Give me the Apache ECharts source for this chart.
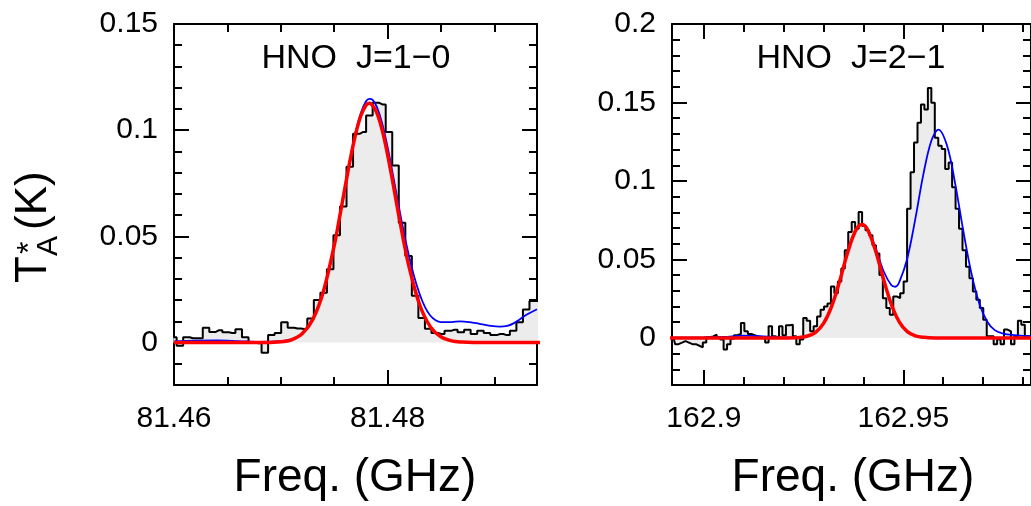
<!DOCTYPE html>
<html>
<head>
<meta charset="utf-8">
<script src="https://cdn.jsdelivr.net/npm/echarts@6/dist/echarts.min.js"></script>
<style>
html, body { margin: 0; background: #fff; }
#chart { width: 1031px; height: 506px; }
</style>
</head>
<body>
<div id="chart"></div>
<script>
// HNO J=1-0 spectrum: regular channel grid, antenna temperature per channel (K)
var leftF0 = 81.45994, leftDF = 0.000612;
var leftT = [0.0025, -0.0015, 0.0025, 0.0020, 0.0020, 0.0070, 0.0050, 0.0058, 0.0048, 0.0045,
  0.0062, 0.0025, 0.0000, -0.0003, -0.0048, 0.0035, 0.0045, 0.0095, 0.0070, 0.0066,
  0.0064, 0.0113, 0.0200, 0.0235, 0.0345, 0.0505, 0.0640, 0.0828, 0.0983, 0.0991,
  0.1069, 0.1129, 0.1121, 0.0991, 0.0834, 0.0564, 0.0408, 0.0220, 0.0115, 0.0065,
  0.0045, 0.0040, 0.0055, 0.0060, 0.0048, 0.0060, 0.0040, 0.0055, 0.0045, 0.0035,
  0.0040, 0.0035, 0.0055, 0.0095, 0.0155, 0.0195, 0.0195];

// fitted curves
var leftRedF = [81.460, 81.466, 81.468, 81.470, 81.471, 81.472, 81.473, 81.474, 81.475, 81.4755,
  81.476, 81.4765, 81.477, 81.4775, 81.478, 81.4783, 81.4785, 81.479, 81.4795, 81.480,
  81.4805, 81.481, 81.4815, 81.482, 81.483, 81.484, 81.485, 81.486, 81.487, 81.488, 81.495];
var leftRed = [0, 0, 0, 0.0004, 0.0013, 0.0041, 0.0109, 0.0242, 0.0455, 0.0587,
  0.0725, 0.0860, 0.0979, 0.1068, 0.1119, 0.1127, 0.1123, 0.1082, 0.1000, 0.0886,
  0.0753, 0.0614, 0.0480, 0.0360, 0.0179, 0.0075, 0.0027, 0.0008, 0.0002, 0, 0];
var leftBlueF = [81.460, 81.462, 81.464, 81.466, 81.468, 81.470, 81.471, 81.472, 81.473, 81.474,
  81.475, 81.4755, 81.476, 81.4765, 81.477, 81.4775, 81.478, 81.4783, 81.4786, 81.479,
  81.4795, 81.480, 81.4805, 81.481, 81.4815, 81.482, 81.4825, 81.483, 81.4835, 81.484,
  81.4845, 81.485, 81.486, 81.4868, 81.4877, 81.4886, 81.4895, 81.4905, 81.4912, 81.4918,
  81.4924, 81.4931, 81.4940];
var leftBlue = [0.0005, 0.0009, 0.0010, 0.0007, 0.0003, 0.0006, 0.0015, 0.0043, 0.0110, 0.0243,
  0.0458, 0.0591, 0.0730, 0.0867, 0.0988, 0.1081, 0.1137, 0.1147, 0.1143, 0.1110,
  0.1032, 0.0922, 0.0792, 0.0656, 0.0525, 0.0410, 0.0310, 0.0230, 0.0168, 0.0127,
  0.0105, 0.0096, 0.0096, 0.0100, 0.0096, 0.0088, 0.0080, 0.0075, 0.0078, 0.0090,
  0.0110, 0.0133, 0.0157];

// HNO J=2-1 spectrum
var rightF0 = 162.89235, rightDF = 0.000868;
var rightT = [0.0004, -0.004, -0.003, -0.002, -0.003, -0.004, -0.004, -0.005, -0.006, -0.003,
  0.0004, 0.001, 0.002, 0.0004, -0.001, -0.0074, -0.004, -0.0005, 0.0017, 0.0025,
  0.0095, 0.0042, 0.0025, 0.0017, 0.001, 0.0004, -0.0004, -0.003, 0.0074, 0.001,
  0.0004, 0.0074, 0.0017, 0.008, 0.0084, 0.001, -0.004, -0.001, 0.0127, 0.011,
  0.0042, 0.0074, 0.0137, 0.018, 0.020, 0.022, 0.0327, 0.0285, 0.0359, 0.0443,
  0.0559, 0.0675, 0.0738, 0.0696, 0.0802, 0.0713, 0.0686, 0.0654, 0.0591, 0.0538,
  0.0401, 0.0253, 0.019, 0.0148, 0.0264, 0.0253, 0.0285, 0.0359, 0.0823, 0.1055,
  0.1245, 0.1371, 0.1487, 0.1456, 0.1593, 0.1498, 0.1276, 0.1224, 0.1203, 0.1076,
  0.1118, 0.096, 0.0823, 0.0696, 0.0559, 0.0454, 0.038, 0.0295, 0.0243, 0.019,
  0.0116, 0.001, 0.001, -0.004, -0.001, -0.004, 0.0053, 0.0042, -0.004, 0.001,
  0.011, 0.0084, 0.001, 0.001];

var rightRedF = [162.890, 162.920, 162.924, 162.926, 162.928, 162.930, 162.932, 162.934, 162.936, 162.938,
  162.9396, 162.941, 162.943, 162.945, 162.947, 162.949, 162.951, 162.953, 162.955, 162.958, 162.985];
var rightRed = [0, 0, 0.0003, 0.0012, 0.0036, 0.0093, 0.0200, 0.0359, 0.0541, 0.0682,
  0.0722, 0.0691, 0.0558, 0.0377, 0.0213, 0.0101, 0.0040, 0.0013, 0.0004, 0, 0];
var rightBlueF = [162.890, 162.900, 162.905, 162.910, 162.914, 162.918, 162.922, 162.924, 162.926, 162.928,
  162.930, 162.932, 162.934, 162.936, 162.938, 162.9396, 162.941, 162.943, 162.945, 162.947,
  162.948, 162.949, 162.951, 162.953, 162.955, 162.957, 162.9588, 162.961, 162.963, 162.965,
  162.967, 162.969, 162.971, 162.973, 162.975, 162.978, 162.982, 162.985];
var rightBlue = [0.0002, 0.0003, 0.0006, 0.0014, 0.0012, 0.0005, 0.0002, 0.0004, 0.0013, 0.0036,
  0.0093, 0.0200, 0.0359, 0.0541, 0.0683, 0.0724, 0.0697, 0.0576, 0.0428, 0.0335,
  0.0326, 0.0357, 0.0508, 0.0758, 0.1040, 0.1255, 0.1327, 0.1221, 0.0981, 0.0686,
  0.0419, 0.0223, 0.0105, 0.0048, 0.0028, 0.0018, 0.0010, 0.0008];

// tick positions and labels
var leftXMajor = [81.46, 81.48];
var leftXMinor = [81.465, 81.47, 81.475, 81.485, 81.49];
var leftYMajor = [0, 0.05, 0.1, 0.15];
var leftYMinor = [-0.01, 0.01, 0.02, 0.03, 0.04, 0.06, 0.07, 0.08, 0.09, 0.11, 0.12, 0.13, 0.14];
var rightXMajor = [162.9, 162.95];
var rightXMinor = [162.91, 162.92, 162.93, 162.94, 162.96, 162.97, 162.98];
var rightYMajor = [0, 0.05, 0.1, 0.15, 0.2];
var rightYMinor = [-0.02, -0.01, 0.01, 0.02, 0.03, 0.04, 0.06, 0.07, 0.08, 0.09,
  0.11, 0.12, 0.13, 0.14, 0.16, 0.17, 0.18, 0.19];

var labelFont = "'Liberation Sans', Arial, sans-serif";

function channels(f0, df, vals) {
  return vals.map(function (v, i) { return [f0 + i * df, v]; });
}
function pairs(fs, vals) {
  return fs.map(function (f, i) { return [f, vals[i]]; });
}

// four axes per direction: frame line + labels + long ticks, short ticks, and the opposite side
function axisSet(kind, grid, min, max, major, minor) {
  var sides = kind === 'x' ? ['bottom', 'top'] : ['left', 'right'];
  var out = [];
  sides.forEach(function (side, s) {
    [major, minor].forEach(function (ticks, k) {
      out.push({
        type: 'value', gridIndex: grid, position: side, offset: 0,
        min: min, max: max,
        axisLine: { show: k === 0, onZero: false, lineStyle: { color: '#000', width: 2 } },
        axisTick: { show: true, inside: true, length: k === 0 ? 15 : 8, customValues: ticks,
          lineStyle: { color: '#000', width: 2 } },
        axisLabel: { show: s === 0 && k === 0, customValues: major, margin: kind === 'x' ? 19 : 16,
          color: '#000', fontSize: 30, fontFamily: labelFont },
        splitLine: { show: false }
      });
    });
  });
  return out;
}

var chart = echarts.init(document.getElementById('chart'));

var xAxes = axisSet('x', 0, 81.46, 81.494, leftXMajor, leftXMinor)
  .concat(axisSet('x', 1, 162.892, 162.982, rightXMajor, rightXMinor));
var yAxes = axisSet('y', 0, -0.02, 0.15, leftYMajor, leftYMinor)
  .concat(axisSet('y', 1, -0.03, 0.2, rightYMajor, rightYMinor));

function specSeries(ax, data) {
  return { type: 'line', xAxisIndex: ax, yAxisIndex: ax, data: data, step: 'middle',
    symbol: 'none', lineStyle: { color: '#000', width: 2 },
    areaStyle: { color: '#ececec', opacity: 1 }, z: 2 };
}
function fitSeries(ax, data, color, width, z) {
  return { type: 'line', xAxisIndex: ax, yAxisIndex: ax, data: data, smooth: 0.35,
    symbol: 'none', lineStyle: { color: color, width: width }, z: z };
}

function txt(x, y, s, size, align) {
  return { type: 'text', x: x, y: y, z: 10, style: { text: s, fill: '#000',
    font: size + 'px ' + labelFont, align: align || 'center', verticalAlign: 'middle' } };
}

chart.setOption({
  animation: false,
  backgroundColor: '#fff',
  grid: [
    { left: 174, top: 24, width: 363, height: 361 },
    { left: 672, top: 24, width: 363, height: 361 }
  ],
  xAxis: xAxes,
  yAxis: yAxes,
  series: [
    specSeries(0, channels(leftF0, leftDF, leftT)),
    fitSeries(0, pairs(leftBlueF, leftBlue), '#0000ff', 1.8, 3),
    fitSeries(0, pairs(leftRedF, leftRed), '#ff0000', 3.5, 4),
    specSeries(4, channels(rightF0, rightDF, rightT)),
    fitSeries(4, pairs(rightBlueF, rightBlue), '#0000ff', 1.8, 3),
    fitSeries(4, pairs(rightRedF, rightRed), '#ff0000', 3.5, 4)
  ],
  graphic: [
    txt(356, 59, 'HNO  J=1\u22120', 34),
    txt(851, 59, 'HNO  J=2\u22121', 34),
    txt(355, 478, 'Freq. (GHz)', 46),
    txt(853, 478, 'Freq. (GHz)', 46),
    { type: 'group', x: 40, y: 224, rotation: Math.PI / 2, children: [
      txt(-59, -6, 'T', 44, 'left'),
      txt(-32, 9, 'A', 30, 'left'),
      txt(-30, -10, '*', 32, 'left'),
      txt(-6, -6, '(K)', 44, 'left')
    ] }
  ]
});
</script>
</body>
</html>
